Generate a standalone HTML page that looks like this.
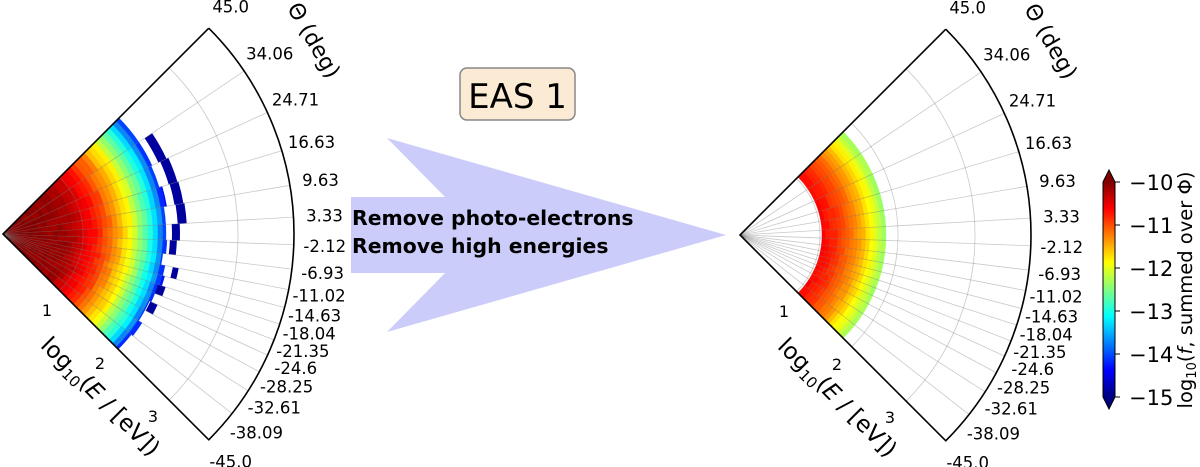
<!DOCTYPE html>
<html><head><meta charset="utf-8"><style>
html,body{margin:0;padding:0;background:#fff;}
svg{display:block;}
text{font-family:"DejaVu Sans","Liberation Sans",sans-serif;}
</style></head><body>
<svg id="s" width="1200" height="467" viewBox="0 0 1200 467" xmlns="http://www.w3.org/2000/svg">
<defs>
<linearGradient id="jet" x1="0" y1="1" x2="0" y2="0">
<stop offset="0" stop-color="#000080"/><stop offset="0.125" stop-color="#0000ff"/>
<stop offset="0.375" stop-color="#00ffff"/><stop offset="0.5" stop-color="#80ff80"/>
<stop offset="0.625" stop-color="#ffff00"/><stop offset="0.875" stop-color="#ff0000"/>
<stop offset="1" stop-color="#800000"/>
</linearGradient>
</defs>
<g id="data"></g>
<g id="grid"></g>
<polygon points="351,197 445,197 387,138 726,235 387,332 445,273 351,273" fill="#ccccfa"/>
<text x="352" y="225" font-size="20.4" font-weight="bold" fill="#000">Remove photo-electrons</text>
<text x="352" y="253" font-size="20.4" font-weight="bold" fill="#000">Remove high energies</text>
<rect x="460" y="68" width="115" height="52" rx="7" fill="#fcebd4" stroke="#888" stroke-width="1.5"/>
<text x="517.5" y="108" font-size="34" text-anchor="middle" fill="#000">EAS 1</text>
<rect x="1103" y="182" width="12" height="215" fill="url(#jet)"/>
<polygon points="1103,182 1109,170 1115,182" fill="#800000"/>
<polygon points="1103,397 1109,409 1115,397" fill="#000080"/>
<path d="M1103,182 L1109,170 L1115,182 L1115,397 L1109,409 L1103,397 Z" fill="none" stroke="#000" stroke-width="1"/>
<g font-size="21" fill="#000">
<text x="1129" y="190">−10</text>
<text x="1129" y="233">−11</text>
<text x="1129" y="276">−12</text>
<text x="1129" y="319">−13</text>
<text x="1129" y="362">−14</text>
<text x="1129" y="405">−15</text>
</g>
<g stroke="#000" stroke-width="1">
<line x1="1115" y1="182" x2="1120" y2="182"/><line x1="1115" y1="225" x2="1120" y2="225"/>
<line x1="1115" y1="268" x2="1120" y2="268"/><line x1="1115" y1="311" x2="1120" y2="311"/>
<line x1="1115" y1="354" x2="1120" y2="354"/><line x1="1115" y1="397" x2="1120" y2="397"/>
</g>
<text transform="translate(1192,290) rotate(-90)" font-size="19.5" text-anchor="middle" fill="#000">log<tspan font-size="13" dy="4">10</tspan><tspan dy="-4">(</tspan><tspan font-style="italic">f</tspan>, summed over Φ)</text>
</svg>
<script>
(function(){
var NS="http://www.w3.org/2000/svg";
var data=document.getElementById('data'),grid=document.getElementById('grid'),svg=document.getElementById('s');
function el(p,tag,at,txt){var e=document.createElementNS(NS,tag);for(var k in at)e.setAttribute(k,at[k]);if(txt!==undefined)e.textContent=txt;p.appendChild(e);return e;}
function cl(x){return Math.max(0,Math.min(1,x));}
function jet(t){var r=cl(1.5-Math.abs(4*t-3)),g=cl(1.5-Math.abs(4*t-2)),b=cl(1.5-Math.abs(4*t-1));
return 'rgb('+Math.round(r*255)+','+Math.round(g*255)+','+Math.round(b*255)+')';}
function interp(tab,r){if(r<=tab[0][0])return tab[0][1];for(var i=1;i<tab.length;i++){if(r<=tab[i][0]){var a=tab[i-1],b=tab[i];return a[1]+(b[1]-a[1])*(r-a[0])/(b[0]-a[0]);}}return tab[tab.length-1][1];}
function P(cx,cy,r,a){var q=a*Math.PI/180;return [cx+r*Math.cos(q),cy-r*Math.sin(q)];}
function sector(cx,cy,r1,r2,a1,a2){var A=P(cx,cy,r1,a1),B=P(cx,cy,r2,a1),C=P(cx,cy,r2,a2),D=P(cx,cy,r1,a2);
var d='M'+A[0].toFixed(2)+','+A[1].toFixed(2)+'L'+B[0].toFixed(2)+','+B[1].toFixed(2)+'A'+r2+','+r2+' 0 0 1 '+C[0].toFixed(2)+','+C[1].toFixed(2)+'L'+D[0].toFixed(2)+','+D[1].toFixed(2);
if(r1>0)d+='A'+r1+','+r1+' 0 0 0 '+A[0].toFixed(2)+','+A[1].toFixed(2);return d+'Z';}
var angs=[45,34.06,24.71,16.63,9.63,3.33,-2.12,-6.93,-11.02,-14.63,-18.04,-21.35,-24.6,-28.25,-32.61,-38.09,-45];
var R=291;
var seed=7;function rnd(){seed=(seed*9301+49297)%233280;return seed/233280;}
var L=[3,234];
var tabL=[[0,1],[65,0.97],[78,0.92],[95,0.85],[112,0.74],[128,0.62],[141,0.48],[151,0.37],[158,0.26],[165,0.13]];
for(var b=0;b<16;b++){var a1=angs[b],a2=angs[b+1];
 var outer=161+Math.round(rnd()*6);
 for(var r=0;r<outer;r+=5){var r2=Math.min(r+5,outer);var t=interp(tabL,r+2.5)+(rnd()-0.5)*0.03;
  el(data,'path',{d:sector(L[0],L[1],r,r2,a1,a2),fill:jet(t),stroke:jet(t),'stroke-width':0.4});}
}
var extra=[[1,171,180],[2,173,182],[3,174,183],[4,175,184],[5,169,177],[6,167,174],[8,173,179],[10,163,171],[12,162,170]];
extra.forEach(function(e){el(data,'path',{d:sector(L[0],L[1],e[1],e[2],angs[e[0]],angs[e[0]+1]),fill:jet(0.03)});});
var Rr=[740,235];
var tabR=[[82,0.88],[100,0.82],[120,0.72],[132,0.63],[146,0.52]];
for(var b=0;b<16;b++){for(var r=82;r<146;r+=4){var t=interp(tabR,r+2)+(rnd()-0.5)*0.02;
 el(data,'path',{d:sector(Rr[0],Rr[1],r,Math.min(r+4,146),angs[b],angs[b+1]),fill:jet(t),stroke:jet(t),'stroke-width':0.4});}}
function axes(cx,cy){
 [80,158,235].forEach(function(r){el(grid,'path',{d:'M'+P(cx,cy,r,45).join(',')+'A'+r+','+r+' 0 0 1 '+P(cx,cy,r,-45).join(','),fill:'none',stroke:'rgba(120,120,120,0.4)','stroke-width':0.8});});
 angs.forEach(function(a){var e=P(cx,cy,R,a);el(grid,'line',{x1:cx,y1:cy,x2:e[0],y2:e[1],stroke:'rgba(120,120,120,0.4)','stroke-width':0.8});
  var l=P(cx,cy,322,a);el(svg,'text',{x:l[0],y:l[1]+6,'font-size':16.5,'text-anchor':'middle',fill:'#000'},(a==45?'45.0':a==-45?'-45.0':String(a)));});
 var t=P(cx,cy,R,45),bb=P(cx,cy,R,-45);
 el(grid,'path',{d:'M'+t.join(',')+'L'+cx+','+cy+'L'+bb.join(',')+'A'+R+','+R+' 0 0 0 '+t.join(','),fill:'none',stroke:'#000','stroke-width':1.6});
 [[44,82],[97,135],[150,188]].forEach(function(p,i){el(svg,'text',{x:cx+p[0],y:cy+p[1],'font-size':16,'text-anchor':'middle',fill:'#000'},String(i+1));});
 var g=el(svg,'text',{transform:'translate('+(cx+92)+','+(cy+168)+') rotate(45)','font-size':23,'text-anchor':'middle',fill:'#000'});
 g.innerHTML='log<tspan font-size="15" dy="5">10</tspan><tspan dy="-5">(</tspan><tspan font-style="italic">E</tspan> / [eV])';
 el(svg,'text',{transform:'translate('+(cx+311)+','+(cy-194)+') rotate(60)','font-size':22,'text-anchor':'middle',dy:'0.35em',fill:'#000'},'Θ (deg)');
}
axes(L[0],L[1]);axes(Rr[0],Rr[1]);
})();
</script>
</body></html>
